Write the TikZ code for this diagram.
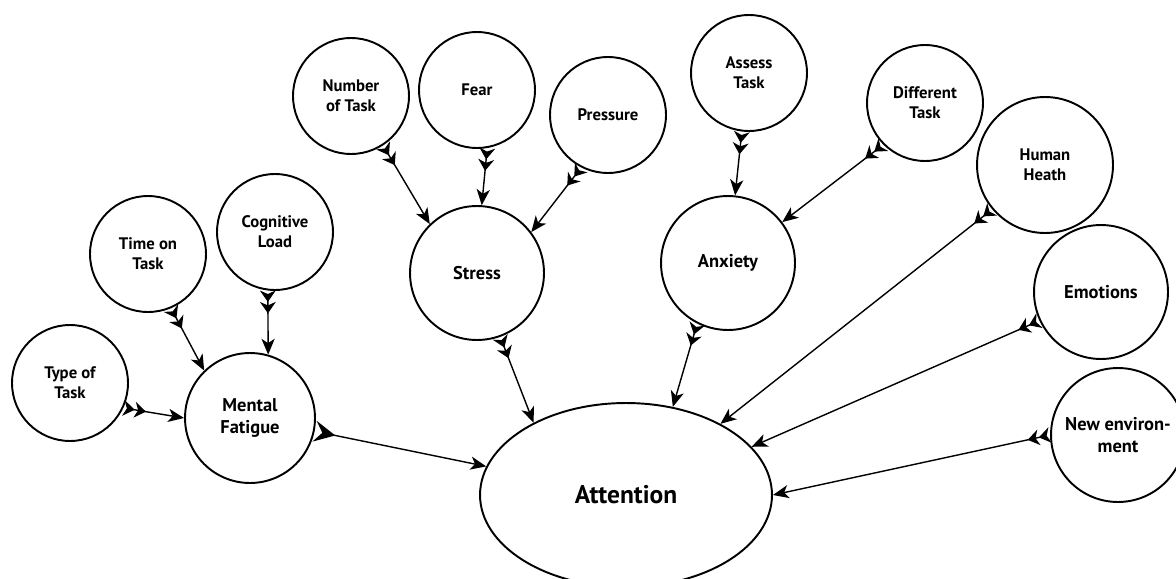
\documentclass[tikz,border=0pt]{standalone}
\usepackage{fontspec}
\setmainfont{PT Sans}
\usetikzlibrary{arrows.meta,shapes.geometric}

\begin{document}
\begin{tikzpicture}[x=0.02cm,y=-0.02cm,
  factor/.style={draw,circle,line width=1.1pt,inner sep=0pt,minimum size=2.32cm,align=center,
    font=\bfseries\fontsize{9.5}{11.4}\selectfont},
  bigfactor/.style={factor,minimum size=2.68cm,font=\bfseries\fontsize{10.5}{12.4}\selectfont},
  link/.style={line width=0.8pt,
    arrows={Stealth[reversed,length=6.5pt,width=9pt,inset=2pt,sep=0pt]Stealth[reversed,length=6.5pt,width=9pt,inset=2pt,sep=0pt]-Stealth[length=9pt,width=7.5pt,inset=2.5pt]}},
  bigtail/.style={arrows={Stealth[reversed,length=12pt,width=12pt,inset=4.5pt]-Stealth[length=9pt,width=7.5pt,inset=2.5pt]}}]
\useasboundingbox (0,0) rectangle (1176,578);
\fill[white] (0,0) rectangle (1176,578);

\node[factor] (type) at (70,383) {Type of\\Task};
\node[factor] (tot) at (148,254) {Time on\\Task};
\node[factor] (cl) at (275,232) {Cognitive\\Load};
\node[bigfactor,minimum size=2.6cm] (mf) at (250,418) {Mental\\Fatigue};
\node[factor] (nt) at (351,96) {Number\\of Task};
\node[factor] (fear) at (477,90) {Fear};
\node[factor] (pressure) at (608,115) {Pressure};
\node[bigfactor] (stress) at (477,273) {Stress};
\node[factor] (assess) at (749,73) {Assess\\Task};
\node[factor] (diff) at (925,103) {Different\\Task};
\node[bigfactor] (anxiety) at (728,263) {Anxiety};
\node[factor,minimum size=2.72cm] (hh) at (1045,165) {Human\\Heath};
\node[bigfactor] (emo) at (1101,292) {Emotions};
\node[bigfactor] (newenv) at (1118,435) {New environ-\\ment};
\node[draw,ellipse,line width=1.1pt,inner sep=0pt,minimum width=5.84cm,minimum height=3.68cm,
  font=\bfseries\fontsize{14.5}{17}\selectfont] (attn) at (626,495) {Attention};

\draw[link] (type.-25) -- (mf.west);
\draw[link] (tot.-67) -- (mf.134);
\draw[link] (cl.-97) -- (mf.74);
\draw[link,bigtail] (mf) -- (attn);
\draw[link] (nt.-57) -- (stress.134);
\draw[link] (fear.-80) -- (stress.86);
\draw[link] (pressure.-117) -- (stress.37);
\draw[link] (stress.-70) -- (attn.142);
\draw[link] (assess.-97) -- (anxiety.84);
\draw[link] (diff.-135) -- (anxiety.37);
\draw[link] (anxiety.-117) -- (attn.62);
\draw[link] (hh.-140) -- (attn.37);
\draw[link] (emo.-155) -- (attn.21);
\draw[link] (newenv.west) -- (attn.east);
\end{tikzpicture}
\end{document}
